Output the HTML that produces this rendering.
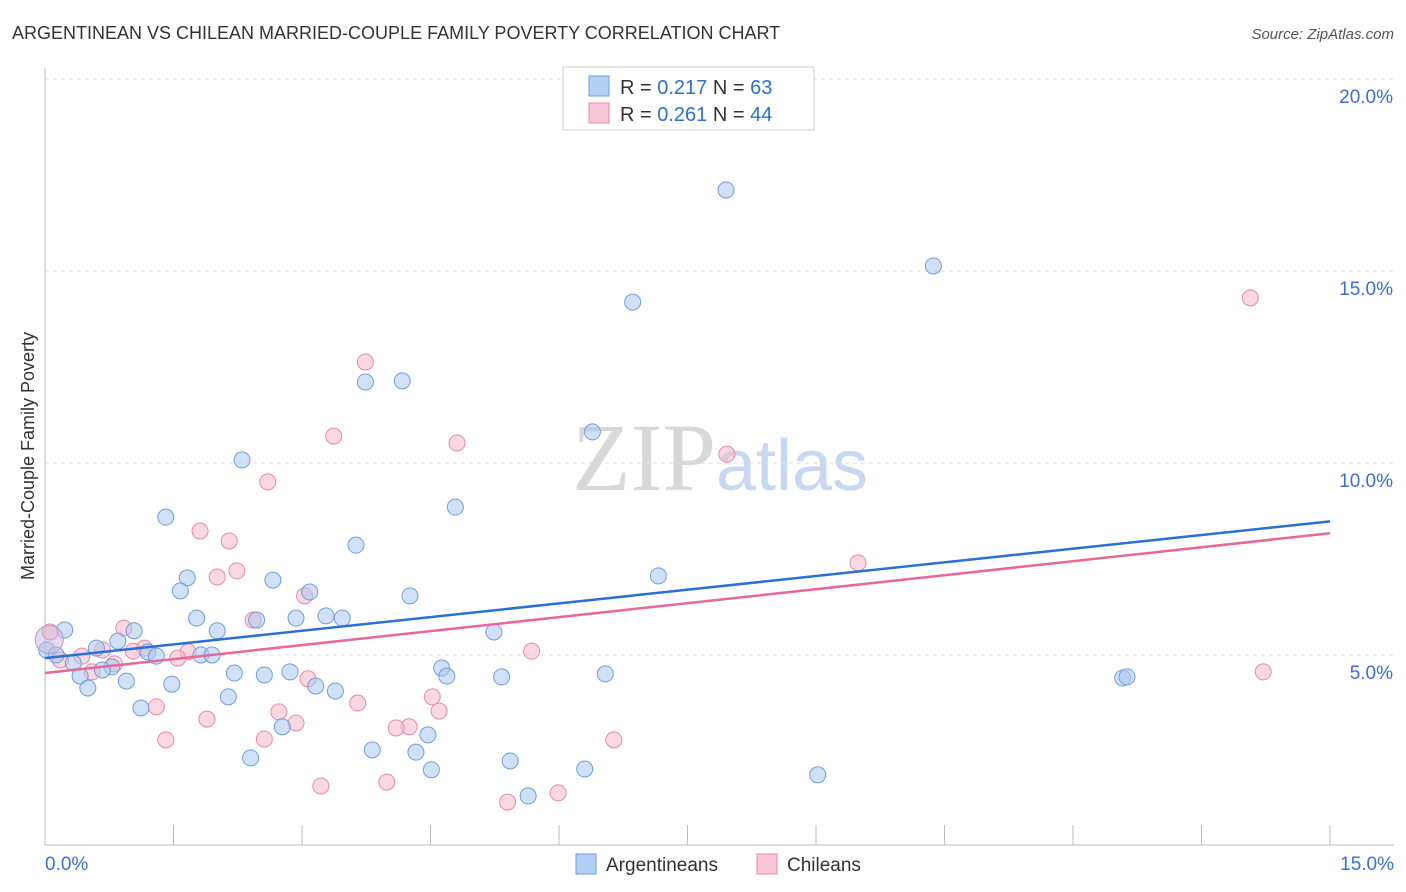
<!DOCTYPE html>
<html><head><meta charset="utf-8"><style>
body{margin:0;background:#fff;font-family:"Liberation Sans",sans-serif}
svg{display:block}
</style></head><body>
<svg id="chart" width="1406" height="892" viewBox="0 0 1406 892" xmlns="http://www.w3.org/2000/svg">
<text x="12" y="39" font-size="18" fill="#333" font-family="Liberation Sans,sans-serif">ARGENTINEAN VS CHILEAN MARRIED-COUPLE FAMILY POVERTY CORRELATION CHART</text>
<text x="1394" y="39" font-size="15" fill="#555" text-anchor="end" font-style="italic">Source: ZipAtlas.com</text>
<text x="720" y="490" font-size="96" text-anchor="middle" font-family="Liberation Serif,serif"><tspan fill="#d8d8d8">ZIP</tspan><tspan fill="#c7d9f2" font-family="Liberation Sans,sans-serif" font-size="72">atlas</tspan></text>
<text transform="translate(34,456) rotate(-90)" font-size="18" fill="#333" text-anchor="middle">Married-Couple Family Poverty</text>
<g id="grid"></g><g id="axes"></g><g id="pts"></g><g id="lines"></g>
<g>
<rect x="563" y="67" width="251" height="63" fill="#fff" stroke="#ccc"/>
<rect x="589" y="76" width="20" height="20" fill="#b3cff3" stroke="#6f9fdc"/>
<rect x="589" y="103" width="20" height="20" fill="#f8c6d6" stroke="#e88aa8"/>
<text x="620" y="94" font-size="20" fill="#333">R = <tspan fill="#2f6fd0">0.217</tspan>   N = <tspan fill="#2f6fd0">63</tspan></text>
<text x="620" y="121" font-size="20" fill="#333">R = <tspan fill="#2f6fd0">0.261</tspan>   N = <tspan fill="#2f6fd0">44</tspan></text>
</g>
<g>
<rect x="576" y="854" width="20" height="20" fill="#b3cff3" stroke="#6f9fdc"/>
<text x="606" y="871" font-size="19" fill="#333">Argentineans</text>
<rect x="757" y="854" width="20" height="20" fill="#f8c6d6" stroke="#e88aa8"/>
<text x="787" y="871" font-size="19" fill="#333">Chileans</text>
</g>
</svg>
<script>
const xTicks=[0,15];
const yTicks=[5,10,15,20];
const blueX=[7.95,10.37,6.86,3.74,4.17,6.39,2.30,4.79,1.41,3.63,1.66,7.16,2.66,1.58,3.09,4.26,1.77,2.47,2.93,3.28,3.47,0.23,2.01,5.24,1.04,0.85,0.60,1.20,1.30,1.82,1.95,0.02,0.13,0.33,0.78,0.67,4.63,2.21,2.56,2.86,0.41,4.69,5.33,6.54,12.58,12.63,0.95,1.48,3.16,3.39,0.50,2.14,1.12,2.77,4.47,3.82,4.33,2.40,5.43,4.51,6.30,9.02,5.64];
const blueY=[17.11,15.13,14.19,12.11,12.14,10.81,10.08,8.85,8.59,7.86,7.01,7.06,6.95,6.67,6.64,6.54,5.96,5.91,5.96,6.02,5.96,5.65,5.63,5.60,5.63,5.36,5.18,5.08,4.97,5.00,5.00,5.13,5.00,4.79,4.69,4.61,4.66,4.53,4.48,4.56,4.45,4.45,4.43,4.51,4.40,4.43,4.32,4.24,4.19,4.06,4.14,3.91,3.62,3.13,2.92,2.53,2.47,2.32,2.24,2.01,2.03,1.88,1.33];
const pinkX=[14.07,3.74,3.37,4.81,7.96,2.60,1.81,2.15,2.24,2.01,9.49,3.03,2.43,0.92,0.67,0.43,0.18,0.06,1.16,1.03,1.67,1.55,0.81,0.55,5.68,3.07,14.22,4.52,3.65,1.30,2.73,4.60,1.89,2.93,4.25,4.10,1.41,2.56,6.64,3.22,3.99,5.99,5.40];
const pinkY=[14.30,12.63,10.70,10.52,10.23,9.51,8.23,7.97,7.19,7.03,7.40,6.54,5.91,5.70,5.13,4.97,4.87,5.60,5.18,5.10,5.08,4.92,4.77,4.56,5.10,4.38,4.56,3.91,3.75,3.65,3.52,3.54,3.33,3.23,3.13,3.10,2.79,2.81,2.79,1.59,1.69,1.41,1.17];
const blueLine=[4.92,8.48];
const pinkLine=[4.53,8.17];
const NS='http://www.w3.org/2000/svg';
const X=v=>45+v*1285/15;
const Y=v=>847-v*38.4;
function mk(p,t,a){const e=document.createElementNS(NS,t);for(const k in a)e.setAttribute(k,a[k]);p.appendChild(e);return e;}
const grid=document.getElementById('grid'),axes=document.getElementById('axes'),pts=document.getElementById('pts'),lines=document.getElementById('lines');
yTicks.forEach(t=>{
 const g=mk(grid,'line',{x1:45,x2:1394,y1:Y(t),y2:Y(t),stroke:'#ddd','stroke-dasharray':'4,4'});
 
 
 const l=mk(axes,'text',{x:1393,y:Y(t)+24,'font-size':19,fill:'#3b6fd1','text-anchor':'end'});
 l.textContent=t.toFixed(1)+'%';
 
 
});
mk(axes,'line',{x1:45,x2:45,y1:68,y2:845,stroke:'#bbb'});
mk(axes,'line',{x1:45,x2:1394,y1:845,y2:845,stroke:'#bbb'});
for(let i=0;i<=10;i++){const v=i*1.5;const tk=mk(axes,'line',{x1:X(v),x2:X(v),y1:845,y2:825,stroke:'#bbb'});
 
 }
xTicks.forEach((t,i)=>{const l=mk(axes,'text',{x:i?1394:45,y:870,'font-size':19,fill:'#3b6fd1','text-anchor':i?'end':'start'});
 l.textContent=t.toFixed(1)+'%';
 
 });
function dots(xs,ys,fill,stroke,name){xs.forEach((x,i)=>{const c=mk(pts,'circle',{cx:X(x),cy:Y(ys[i]),r:8,fill:fill,'fill-opacity':0.55,stroke:stroke,'stroke-width':1});
 
 });}
dots(pinkX,pinkY,'#f5b8cb','#e88aa8','chilean-point');
dots(blueX,blueY,'#a9c8f0','#6f9fdc','argentinean-point');
const big=mk(pts,'circle',{cx:X(0.05),cy:Y(5.4),r:14,fill:'#c9b8dc','fill-opacity':0.5,stroke:'#b49ad0'});


const bl=mk(lines,'line',{x1:X(0),y1:Y(blueLine[0]),x2:X(15),y2:Y(blueLine[1]),stroke:'#2a6fd6','stroke-width':2.5});


const pl=mk(lines,'line',{x1:X(0),y1:Y(pinkLine[0]),x2:X(15),y2:Y(pinkLine[1]),stroke:'#e8679a','stroke-width':2.5});


</script>
</body></html>
